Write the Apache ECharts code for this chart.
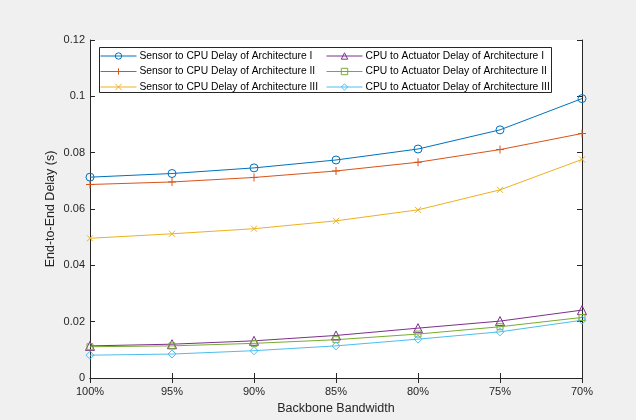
<!DOCTYPE html>
<html><head><meta charset="utf-8">
<script src="https://cdn.jsdelivr.net/npm/echarts@6/dist/echarts.min.js"></script>
<style>html,body{margin:0;padding:0;background:#f0f0f0;}#c{width:636px;height:420px;}</style>
</head><body><div id="c"></div>
<script>
const categories = ['100%','95%','90%','85%','80%','75%','70%'];
const sensorArch1 = [0.0713,0.0726,0.0746,0.0774,0.0813,0.0881,0.0992];
const sensorArch2 = [0.0687,0.0696,0.0712,0.0735,0.0766,0.0811,0.0868];
const sensorArch3 = [0.0496,0.0512,0.0530,0.0558,0.0597,0.0668,0.0776];
const actuatorArch1 = [0.0114,0.0120,0.0132,0.0151,0.0177,0.0202,0.0241];
const actuatorArch2 = [0.0111,0.0114,0.0123,0.0136,0.0156,0.0182,0.0215];
const actuatorArch3 = [0.0081,0.0085,0.0097,0.0114,0.0138,0.0164,0.0205];
const yTicks = {min:0, max:0.12, interval:0.02};

const names = [
 'Sensor to CPU Delay of Architecture I',
 'Sensor to CPU Delay of Architecture II',
 'Sensor to CPU Delay of Architecture III',
 'CPU to Actuator Delay of Architecture I',
 'CPU to Actuator Delay of Architecture II',
 'CPU to Actuator Delay of Architecture III'
];
const colors = ['#0072BD','#D95319','#EDB120','#7E2F8E','#77AC30','#4DBEEE'];
const symbols = ['circle','path://M5 0V10M0 5H10','path://M0 0L10 10M10 0L0 10','triangle','rect','diamond'];
const sizes = [8,8,6,9,6,8];
const datas = [sensorArch1,sensorArch2,sensorArch3,actuatorArch1,actuatorArch2,actuatorArch3];

const series = datas.map((d,i)=>({
  name: names[i], type:'line', data:d, color: colors[i],
  symbol: symbols[i], symbolSize: sizes[i], showAllSymbol:true,
  lineStyle:{color:colors[i], width:1},
  itemStyle:{color:'rgba(0,0,0,0)', borderColor:colors[i], borderWidth:1},
  emphasis:{disabled:true}, animation:false
}));

const axisCol = '#262626';
const font = 'Liberation Sans, Arial, Helvetica, sans-serif';
const legendCommon = {
  orient:'vertical', top:51, itemWidth:36, itemHeight:8, itemGap:5.5,
  lineStyle:{width:1}, itemStyle:{borderWidth:1},
  textStyle:{fontFamily:font, fontSize:10.3, color:'#000', padding:[0,0,0,-2]},
  padding:0, selectedMode:false
};
const chart = echarts.init(document.getElementById('c'), null, {renderer:'canvas'});
chart.setOption({
  backgroundColor:'#f0f0f0',
  animation:false,
  grid:{left:90, right:54, top:40, bottom:41, show:true, backgroundColor:'#fff', borderWidth:0},
  graphic:[{type:'rect', left:99, top:47, shape:{width:452, height:45}, style:{fill:'#fff', stroke:axisCol, lineWidth:1}, z:50}],
  legend:[
    Object.assign({left:100, data:names.slice(0,3), z:60}, legendCommon),
    Object.assign({left:326, data:names.slice(3), z:60}, legendCommon)
  ],
  xAxis:[{
    type:'category', data:categories, boundaryGap:false,
    name:'Backbone Bandwidth', nameLocation:'middle', nameGap:24,
    nameTextStyle:{fontFamily:font, fontSize:12.5, color:axisCol},
    axisLine:{lineStyle:{color:axisCol}}, axisTick:{inside:true, length:5, lineStyle:{color:axisCol}},
    axisLabel:{fontFamily:font, fontSize:11, color:axisCol, margin:8}, splitLine:{show:false}
  },{
    type:'category', data:categories, boundaryGap:false, position:'top',
    axisLine:{lineStyle:{color:axisCol}}, axisTick:{inside:true, length:5, lineStyle:{color:axisCol}},
    axisLabel:{show:false}, splitLine:{show:false}
  }],
  yAxis:[{
    type:'value', min:yTicks.min, max:yTicks.max, interval:yTicks.interval,
    name:'End-to-End Delay (s)', nameLocation:'middle', nameGap:33, nameMoveOverlap:false,
    nameTextStyle:{fontFamily:font, fontSize:12.5, color:axisCol},
    axisLine:{show:true, lineStyle:{color:axisCol}}, axisTick:{show:true, inside:true, length:5, lineStyle:{color:axisCol}},
    axisLabel:{fontFamily:font, fontSize:11, color:axisCol, margin:5}, splitLine:{show:false}
  },{
    type:'value', min:yTicks.min, max:yTicks.max, interval:yTicks.interval, position:'right',
    axisLine:{show:true, lineStyle:{color:axisCol}}, axisTick:{show:true, inside:true, length:5, lineStyle:{color:axisCol}},
    axisLabel:{show:false}, splitLine:{show:false}
  }],
  series: series
});
</script></body></html>
